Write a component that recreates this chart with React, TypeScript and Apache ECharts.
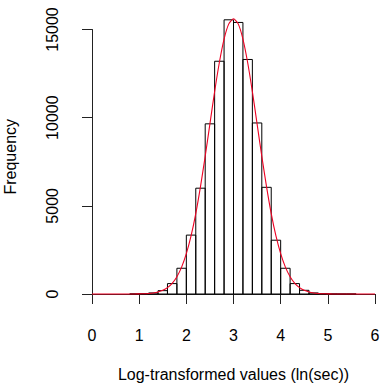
import React, { useEffect, useRef } from "react";
import * as echarts from "echarts";

// Histogram bins (lower edges, width 0.2) and counts
const binStarts = [0.8, 1.0, 1.2, 1.4, 1.6, 1.8, 2.0, 2.2, 2.4, 2.6, 2.8, 3.0, 3.2, 3.4, 3.6, 3.8, 4.0, 4.2, 4.4, 4.6, 4.8, 5.0, 5.2, 5.4];
const binWidth = 0.2;
const counts = [5, 20, 60, 190, 590, 1460, 3340, 6000, 9650, 13200, 15550, 15400, 13300, 9700, 6050, 3050, 1460, 590, 210, 60, 20, 6, 2, 1];

// Red fitted curve
const curveX = [0, 0.1, 0.2, 0.3, 0.4, 0.5, 0.6, 0.7, 0.8, 0.9, 1.0, 1.1, 1.2, 1.3, 1.4, 1.5, 1.6, 1.7, 1.8, 1.9, 2.0, 2.1, 2.2, 2.3, 2.4, 2.5, 2.6, 2.7, 2.8, 2.9, 3.0, 3.1, 3.2, 3.3, 3.4, 3.5, 3.6, 3.7, 3.8, 3.9, 4.0, 4.1, 4.2, 4.3, 4.4, 4.5, 4.6, 4.7, 4.8, 4.9, 5.0, 5.1, 5.2, 5.3, 5.4, 5.5, 5.6, 5.7, 5.8, 5.9, 6.0];
const curveY = [0, 0, 0, 0, 0, 0, 0, 0, 1, 3, 7, 15, 31, 60, 113, 206, 360, 605, 980, 1525, 2285, 3290, 4560, 6090, 7810, 9650, 11480, 13130, 14460, 15320, 15610, 15320, 14460, 13130, 11480, 9650, 7810, 6090, 4560, 3290, 2285, 1525, 980, 605, 360, 206, 113, 60, 31, 15, 7, 3, 1, 0, 0, 0, 0, 0, 0, 0, 0];

// Axis ticks
const xTicks = { min: 0, max: 6, interval: 1 };
const yTicks = { min: 0, max: 15000, interval: 5000 };

const FONT = "'Liberation Sans', Arial, Helvetica, sans-serif";

export default function App() {
  const ref = useRef<HTMLDivElement>(null);
  useEffect(() => {
    if (!ref.current) return;
    const chart = echarts.init(ref.current, null, { renderer: "svg" });
    const histData = binStarts.map((s, i) => [s, s + binWidth, counts[i]]);
    const lineData = curveX.map((x, i) => [x, curveY[i]]);
    chart.setOption({
      animation: false,
      backgroundColor: "#ffffff",
      textStyle: { fontFamily: FONT },
      grid: { left: 92, right: 6, top: 29.5, bottom: 94, containLabel: false, outerBoundsMode: "none" },
      xAxis: {
        type: "value",
        min: xTicks.min,
        max: xTicks.max,
        interval: xTicks.interval,
        offset: 10,
        axisLine: { show: true, lineStyle: { color: "#222", width: 1 } },
        axisTick: { show: true, length: 10, lineStyle: { color: "#222", width: 1 } },
        axisLabel: { fontSize: 16, color: "#000", margin: 23, fontFamily: FONT, formatter: (v: number) => String(v) },
        splitLine: { show: false },
        name: "Log-transformed values (ln(sec))",
        nameLocation: "middle",
        nameGap: 62,
        nameTextStyle: { fontSize: 16, color: "#000", fontFamily: FONT },
      },
      yAxis: {
        type: "value",
        min: yTicks.min,
        max: yTicks.max,
        interval: yTicks.interval,
        offset: 12,
        axisLine: { show: true, lineStyle: { color: "#222", width: 1 } },
        axisTick: { show: true, length: 10, lineStyle: { color: "#222", width: 1 } },
        axisLabel: { fontSize: 16, color: "#000", margin: 20, rotate: 90, fontFamily: FONT, formatter: (v: number) => String(v) },
        splitLine: { show: false },
        name: "Frequency",
        nameLocation: "middle",
        nameGap: 62,
        nameTextStyle: { fontSize: 16, color: "#000", fontFamily: FONT, padding: [0, 0, 0, 10] },
      },
      series: [
        {
          type: "custom",
          clip: false,
          z: 2,
          data: histData,
          encode: { x: [0, 1], y: 2 },
          renderItem: (params: any, api: any) => {
            const p0 = api.coord([api.value(0), api.value(2)]);
            const p1 = api.coord([api.value(1), 0]);
            return {
              type: "rect",
              shape: { x: p0[0], y: p0[1], width: p1[0] - p0[0], height: p1[1] - p0[1] },
              style: { fill: "none", stroke: "#000", lineWidth: 1 },
            };
          },
        },
        {
          type: "line",
          clip: false,
          z: 3,
          data: lineData,
          showSymbol: false,
          smooth: 0.2,
          lineStyle: { color: "#ee0022", width: 1.1 },
        },
      ],
    });
    return () => chart.dispose();
  }, []);
  return (
    <div
      ref={ref}
      style={{ position: "fixed", left: 0, top: 0, width: 381, height: 388, background: "#fff" }}
    />
  );
}
